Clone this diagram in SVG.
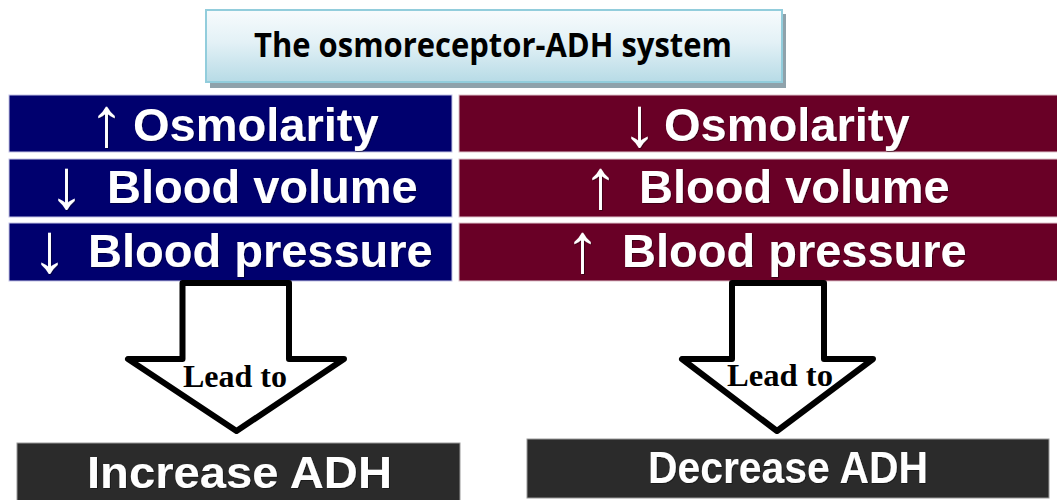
<svg xmlns="http://www.w3.org/2000/svg" width="1057" height="500" viewBox="0 0 1057 500">
  <defs>
    <linearGradient id="titleGrad" x1="0" y1="0" x2="0" y2="1">
      <stop offset="0" stop-color="#f7fbfd"/>
      <stop offset="0.45" stop-color="#e3f1f6"/>
      <stop offset="1" stop-color="#b7dbe6"/>
    </linearGradient>
    <filter id="tshadow" x="-5%" y="-20%" width="110%" height="140%">
      <feDropShadow dx="0.8" dy="0.8" stdDeviation="0.4" flood-color="#000000" flood-opacity="0.5"/>
    </filter>
  </defs>
  <style>
    .navy { fill: #00006e; stroke: #c4c4e6; stroke-width: 1; }
    .maroon { fill: #690026; stroke: #e0c4cc; stroke-width: 1; }
    .dark { fill: #2b2b2b; stroke: #9a9a9a; stroke-width: 1; }
    .big { font-family: "Liberation Sans", Arial, sans-serif; font-weight: bold; font-size: 47px; fill: #ffffff; filter: url(#tshadow); }
    .arr { font-family: "Liberation Sans", Arial, sans-serif; font-weight: normal; font-size: 70px; fill: #ffffff; filter: url(#tshadow); }
    .res { font-family: "Liberation Sans", Arial, sans-serif; font-weight: bold; font-size: 45px; fill: #ffffff; filter: url(#tshadow); }
    .lead { font-family: "Liberation Serif", "Times New Roman", serif; font-weight: bold; font-size: 32px; fill: #000000; }
    .blockarrow { fill: #ffffff; stroke: #000000; stroke-width: 6; stroke-linejoin: round; }
    .title { font-family: "Open Sans", "Noto Sans", sans-serif; font-weight: bold; font-size: 34px; fill: #000000; }
  </style>
  <rect width="1057" height="500" fill="#ffffff"/>

  <g id="title">
    <rect x="210" y="14" width="576" height="74" fill="#8fa2ab"/>
    <rect x="206" y="10" width="576" height="72" fill="url(#titleGrad)" stroke="#92cddc" stroke-width="2"/>
    <text class="title" x="254" y="57" textLength="478" lengthAdjust="spacingAndGlyphs">The osmoreceptor-ADH system</text>
  </g>

  <g id="left-osmolarity">
    <rect class="navy" x="9" y="95" width="443" height="57"/>
    <text class="arr" x="89" y="146">↑</text>
    <text class="big" x="133" y="141">Osmolarity</text>
  </g>
  <g id="left-volume">
    <rect class="navy" x="9" y="159" width="443" height="58"/>
    <text class="arr" x="49" y="208">↓</text>
    <text class="big" x="107" y="203">Blood volume</text>
  </g>
  <g id="left-pressure">
    <rect class="navy" x="9" y="223" width="443" height="58"/>
    <text class="arr" x="32" y="272">↓</text>
    <text class="big" x="88" y="267">Blood pressure</text>
  </g>

  <g id="right-osmolarity">
    <rect class="maroon" x="459" y="95" width="600" height="57"/>
    <text class="arr" x="622" y="146">↓</text>
    <text class="big" x="664" y="141">Osmolarity</text>
  </g>
  <g id="right-volume">
    <rect class="maroon" x="459" y="159" width="600" height="58"/>
    <text class="arr" x="583" y="208">↑</text>
    <text class="big" x="639" y="203">Blood volume</text>
  </g>
  <g id="right-pressure">
    <rect class="maroon" x="459" y="223" width="600" height="58"/>
    <text class="arr" x="565" y="272">↑</text>
    <text class="big" x="622" y="267">Blood pressure</text>
  </g>

  <g id="connectors">
    <polygon class="blockarrow" points="182.5,283 289,283 289,359 344,359 236.5,431 128,359 182.5,359"/>
    <text class="lead" x="183" y="387" textLength="104" lengthAdjust="spacingAndGlyphs">Lead to</text>
    <polygon class="blockarrow" points="732,283 824,283 824,359 873,359 777,431 682,359 732,359"/>
    <text class="lead" x="727" y="386" textLength="106" lengthAdjust="spacingAndGlyphs">Lead to</text>
  </g>

  <g id="increase-adh">
    <rect class="dark" x="17" y="443" width="443" height="60"/>
    <text class="res" x="87" y="488" textLength="305" lengthAdjust="spacingAndGlyphs">Increase ADH</text>
  </g>
  <g id="decrease-adh">
    <rect class="dark" x="527" y="439" width="522" height="59"/>
    <text class="res" x="648" y="483" textLength="280" lengthAdjust="spacingAndGlyphs">Decrease ADH</text>
  </g>
</svg>
